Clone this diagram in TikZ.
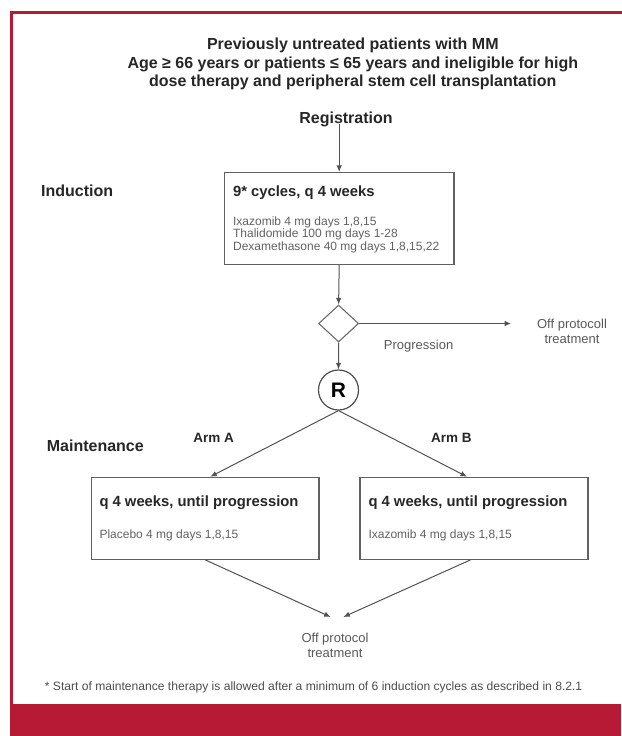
\documentclass[tikz,border=0pt]{standalone}
\usepackage{fontspec}
\setmainfont{Liberation Sans}
\usetikzlibrary{arrows.meta}
\usetikzlibrary{shapes.geometric}
\tikzset{>={Latex[length=6.5pt,width=5.5pt]}}
\definecolor{framered}{HTML}{B71A35}
\colorlet{ink}{black!85}
\colorlet{soft}{black!62}

\begin{document}
\begin{tikzpicture}[x=1pt,y=-1pt,
        head/.style={font=\bfseries\fontsize{16}{18.5}\selectfont, text=ink, inner sep=0pt},
        sub/.style={font=\bfseries\fontsize{14.8}{16}\selectfont, text=ink, inner sep=0pt},
        arm/.style={font=\bfseries\fontsize{13.5}{15}\selectfont, text=ink, inner sep=0pt},
        lbl/.style={font=\fontsize{12}{12.6}\selectfont, text=soft, inner sep=0pt},
        note/.style={font=\fontsize{13}{15.5}\selectfont, text=black!65, inner sep=0pt, align=center},
        stepbox/.style={draw=black!62, line width=1.2pt, rectangle, inner sep=0pt},
        flow/.style={->, draw=black!68, line width=1pt}]
                \useasboundingbox (0,0) rectangle (621,736);

                % red frame and band
                \draw[framered, line width=2.7pt] (11.3,736) -- (11.3,12.3) -- (625,12.3);
                \fill[framered] (9.95,704) rectangle (621,736);

                % title
                \node[head, align=center] (title) at (352.8,64) {Previously untreated patients with MM\\
                    Age ≥ 66 years or patients ≤ 65 years and ineligible for high\\
                    dose therapy and peripheral stem cell transplantation};
                \node[head] (reg) at (346,119.5) {Registration};

                % induction
                \node[head] (ind) at (77.2,191) {Induction};
                \node[stepbox, minimum width=229.5, minimum height=92] (indbox) at (339.2,218.5) {};
                \node[sub, anchor=west] (indhead) at (232.9,193) {9* cycles, q 4 weeks};
                \node[lbl, anchor=west, align=left] (indbody) at (232.9,234.8) {Ixazomib 4 mg days 1,8,15\\
                    Thalidomide 100 mg days 1-28\\
                    Dexamethasone 40 mg days 1,8,15,22};

                % progression check
                \node[diamond, draw=black!58, line width=1.1pt, minimum width=40, minimum height=37, inner sep=0pt] (chk) at (338.6,323.5) {};
                \coordinate (offend) at (511,323.5);
                \node[note] (off1) at (572,331.5) {Off protocoll\\treatment};
                \node[note] (prog) at (418.6,346.5) {Progression};

                % randomisation
                \node[circle, draw=black!70, line width=1.2pt, minimum size=40, inner sep=0pt,
                    font=\bfseries\fontsize{21}{21}\selectfont] (rand) at (338.5,390) {R};

                % maintenance
                \node[head] (maint) at (95.3,446) {Maintenance};
                \node[arm] (armA) at (213.7,438.3) {Arm A};
                \node[arm] (armB) at (451.4,438.3) {Arm B};
                \node[stepbox, minimum width=227.3, minimum height=82] (lbox) at (205.3,518.3) {};
                \node[stepbox, minimum width=228, minimum height=82] (rbox) at (474,518.3) {};
                \node[sub, anchor=west] (lhead) at (99.3,502.3) {q 4 weeks, until progression};
                \node[sub, anchor=west] (rhead) at (368.3,502.3) {q 4 weeks, until progression};
                \node[lbl, anchor=west] (lbody) at (99.3,535) {Placebo 4 mg days 1,8,15};
                \node[lbl, anchor=west] (rbody) at (368.3,535) {Ixazomib 4 mg days 1,8,15};

                % end of protocol
                \coordinate (endA) at (330.7,617);
                \coordinate (endB) at (343.3,617);
                \node[note] (off2) at (335,645.5) {Off protocol\\treatment};

                % footnote
                \node[lbl, font=\fontsize{12.1}{13}\selectfont, text=black!70] (foot) at (313.6,687) {* Start of maintenance therapy is allowed after a minimum of 6 induction cycles as described in 8.2.1};

                % reg to induction
                \draw[flow] ([yshift=3]indbox.north |- reg.south) -- (indbox.north);
                % induction to check
                \draw[flow] (indbox.south) -- (chk.north);
                % check to off
                \draw[flow] (chk.east) -- (offend);
                % check to R
                \draw[flow] (chk.south) -- (rand.north);
                % R to arms
                \draw[flow] (rand.south) -- ([xshift=5]lbox.north);
                \draw[flow] (rand.south) -- ([xshift=-7]rbox.north);
                % arms to off
                \draw[flow] (lbox.south) -- (endA);
                \draw[flow] ([xshift=-3.6]rbox.south) -- (endB);
            \end{tikzpicture}
\end{document}
